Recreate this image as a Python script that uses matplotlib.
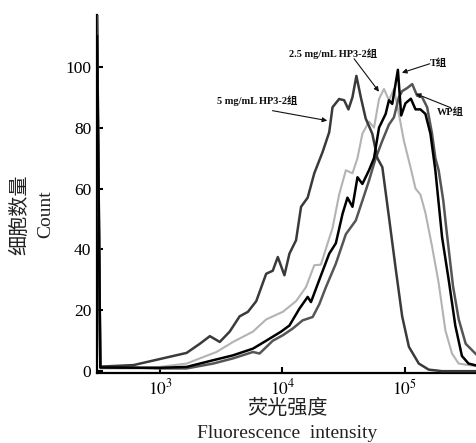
import numpy as np
import matplotlib
matplotlib.use("Agg")
import matplotlib.pyplot as plt

plt.rcParams['mathtext.fontset'] = 'stix'
SERIF = ['Liberation Serif', 'Noto Sans CJK SC']
CJK = ['Noto Sans CJK SC', 'Liberation Serif']

# log10 of fluorescence intensity and counts for each group
hp5_logx = [2.485, 2.512, 2.783, 3.0, 3.217, 3.325, 3.407, 3.488, 3.569, 3.650, 3.718, 3.786,
            3.867, 3.921, 3.962, 4.016, 4.057, 4.111, 4.152, 4.206, 4.260, 4.328, 4.382, 4.409,
            4.463, 4.504, 4.539, 4.572, 4.604, 4.640, 4.680, 4.734, 4.775, 4.816, 4.870, 4.924,
            4.978, 5.033, 5.114, 5.195, 5.304, 5.62]
hp5_y = [120, 1.5, 2, 4, 6, 9, 11.5, 9.6, 13, 18, 19.5, 23,
         32, 33, 37.5, 31.5, 38.6, 43, 54, 57, 65, 72, 78.5, 86.7,
         89.4, 89, 86, 90, 97, 90, 83, 78, 70, 67, 50.6, 34,
         18, 8, 2.5, 0.5, 0, 0]

hp25_logx = [2.485, 2.512, 2.783, 3.0, 3.217, 3.325, 3.461, 3.596, 3.759, 3.867, 4.003, 4.111,
             4.192, 4.260, 4.314, 4.369, 4.409, 4.463, 4.518, 4.572, 4.613, 4.653, 4.707, 4.748,
             4.789, 4.829, 4.870, 4.911, 4.951, 4.992, 5.046, 5.087, 5.127, 5.168, 5.222, 5.276,
             5.331, 5.385, 5.439, 5.62]
hp25_y = [115, 0.9, 0.9, 1.4, 2.5, 4.2, 6.3, 9.6, 13, 17, 19.5, 23,
          27.6, 34.8, 35, 42, 47, 58, 66, 65, 70, 78, 82, 80,
          89.4, 92.7, 89, 92.7, 84.5, 75.7, 67, 60, 58, 52, 41, 29,
          13.4, 5.8, 2.5, 1.4]

t_logx = [2.485, 2.512, 3.0, 3.217, 3.434, 3.596, 3.759, 3.867, 3.989, 4.057, 4.138, 4.206,
          4.233, 4.301, 4.382, 4.436, 4.491, 4.531, 4.572, 4.613, 4.653, 4.707, 4.748, 4.789,
          4.843, 4.870, 4.897, 4.943, 4.970, 5.005, 5.049, 5.087, 5.127, 5.168, 5.209, 5.249,
          5.304, 5.358, 5.412, 5.466, 5.520, 5.62]
t_y = [110, 1.2, 1.1, 1.4, 3.6, 5.2, 7.4, 10, 13, 15, 20.5, 24.4,
       22.7, 30, 38.6, 42, 51.7, 57, 54, 63.7, 61.5, 66, 70, 80,
       84.5, 89, 87.8, 99, 84, 88, 89.5, 86, 86, 84.5, 78, 66,
       44, 30, 15, 5, 2.5, 1.5]

wp_logx = [2.485, 2.512, 3.0, 3.217, 3.434, 3.596, 3.759, 3.813, 3.921, 4.003, 4.084, 4.165,
           4.247, 4.301, 4.355, 4.436, 4.518, 4.599, 4.653, 4.707, 4.762, 4.816, 4.870, 4.911,
           4.951, 4.978, 5.019, 5.060, 5.100, 5.141, 5.182, 5.222, 5.249, 5.276, 5.314, 5.341,
           5.393, 5.440, 5.497, 5.62]
wp_y = [118, 1.4, 0.9, 0.9, 2.5, 4.2, 6.3, 5.8, 10, 11.8, 14, 16.7,
        17.8, 22, 27.6, 35.3, 45, 49.5, 56, 62.6, 70, 75.7, 81, 83.4,
        90, 92, 93, 94.3, 90.5, 90, 86.7, 78, 70, 66, 56, 46,
        28, 17, 9, 4]

y_ticks = [0, 20, 40, 60, 80, 100]
x_ticks = [1e3, 1e4, 1e5]
x_tick_labels = [r'$10^3$', r'$10^4$', r'$10^5$']

fig = plt.figure(figsize=(4.76, 4.43), dpi=100)
ax = fig.add_axes([97/476, 70/443, 1 - 97/476 + 0.01, (443 - 70 - 15)/443])

def lx(v):
    return 10 ** np.asarray(v)

ax.plot(lx(hp25_logx), hp25_y, color='#b3b3b3', lw=1.5, zorder=2)
ax.plot(lx(wp_logx), wp_y, color='#555555', lw=1.8, zorder=3)
ax.plot(lx(hp5_logx), hp5_y, color='#3a3a3a', lw=1.8, zorder=4)
ax.plot(lx(t_logx), t_y, color='#000000', lw=1.8, zorder=5)

ax.set_xscale('log')
ax.set_xlim(10 ** 2.485, 10 ** 5.62)
ax.set_ylim(-0.6, 117)
ax.spines['top'].set_visible(False)
ax.spines['right'].set_visible(False)
ax.spines['left'].set_linewidth(1.6)
ax.spines['bottom'].set_linewidth(1.6)
ax.set_yticks(y_ticks)
ax.set_yticklabels([str(v) for v in y_ticks], family=SERIF, fontsize=12.5)
ax.set_xticks(x_ticks)
ax.set_xticklabels(x_tick_labels, fontsize=12.5)
ax.xaxis.set_minor_locator(matplotlib.ticker.NullLocator())
ax.tick_params(direction='in', length=4, width=1.5, pad=4)

# annotations
def dx(px):
    return 10 ** (3 + (px - 160) / 123)

def dy(py):
    return (371 - py) / 3.05

ann_kw = dict(family=SERIF, fontsize=7.5, fontweight='bold', color='#111111')
arrow = dict(arrowstyle='-|>', lw=0.8, color='#111111', mutation_scale=7, shrinkA=0, shrinkB=0)

ax.text(dx(334), dy(53), '2.5 mg/mL HP3-2组', ha='center', va='center', **ann_kw)
ax.annotate('', xy=(dx(380), dy(91)), xytext=(dx(355), dy(58)), arrowprops=arrow)
ax.text(dx(440), dy(62), 'T组', ha='center', va='center', **ann_kw)
ax.annotate('', xy=(dx(403), dy(72)), xytext=(dx(431), dy(63)), arrowprops=arrow)
ax.text(dx(452), dy(112), 'WP组', ha='center', va='center', **ann_kw)
ax.annotate('', xy=(dx(417), dy(93)), xytext=(dx(452), dy(107)), arrowprops=arrow)
ax.text(dx(258), dy(100), '5 mg/mL HP3-2组', ha='center', va='center', **ann_kw)
ax.annotate('', xy=(dx(328), dy(120)), xytext=(dx(273), dy(110)), arrowprops=arrow)

# axis titles
fig.text(287/476, 1 - 408/443, '荧光强度', ha='center', va='center', family=CJK,
         fontsize=14.5, color='#222222')
fig.text(287/476, 1 - 433/443, 'Fluorescence  intensity', ha='center', va='center',
         family=SERIF, fontsize=14, color='#222222')
fig.text(20/476, 1 - 215/443, '细胞数量', ha='center', va='center', rotation=90,
         family=CJK, fontsize=14.5, color='#222222')
fig.text(46/476, 1 - 214/443, 'Count', ha='center', va='center', rotation=90,
         family=SERIF, fontsize=14, color='#222222')

fig.savefig('out.png', dpi=100, facecolor='white')
